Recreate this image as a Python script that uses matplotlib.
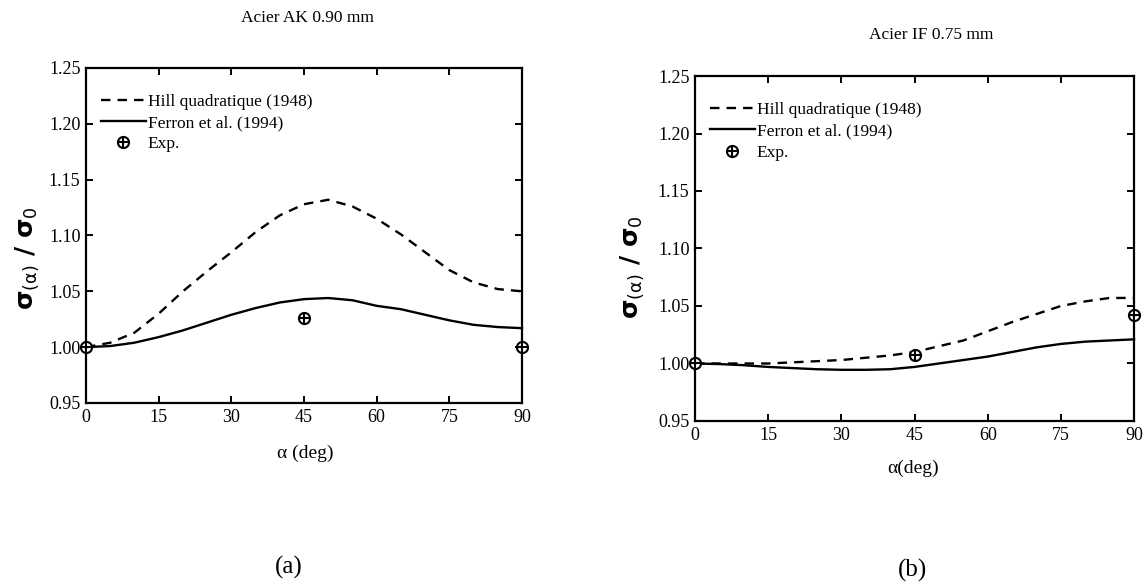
import matplotlib
matplotlib.use('Agg')
import matplotlib.pyplot as plt
from matplotlib.legend_handler import HandlerTuple

plt.rcParams['font.family'] = ['Liberation Serif', 'DejaVu Serif']
plt.rcParams['mathtext.fontset'] = 'dejavusans'

# angle grid (deg)
alpha = [0, 5, 10, 15, 20, 25, 30, 35, 40, 45, 50, 55, 60, 65, 70, 75, 80, 85, 90]

# (a) Acier AK 0.90 mm
hill_ak = [1.000, 1.004, 1.013, 1.030, 1.050, 1.068, 1.085, 1.103, 1.118, 1.128,
           1.132, 1.126, 1.115, 1.101, 1.085, 1.069, 1.058, 1.052, 1.050]
ferron_ak = [1.000, 1.001, 1.004, 1.009, 1.015, 1.022, 1.029, 1.035, 1.040, 1.043,
             1.044, 1.042, 1.037, 1.034, 1.029, 1.024, 1.020, 1.018, 1.017]
exp_ak_a = [0, 45, 90]
exp_ak_v = [1.000, 1.026, 1.000]

# (b) Acier IF 0.75 mm
hill_if = [1.000, 1.000, 1.000, 1.000, 1.001, 1.002, 1.003, 1.005, 1.007, 1.010,
           1.015, 1.020, 1.028, 1.036, 1.043, 1.050, 1.054, 1.057, 1.057]
ferron_if = [1.000, 0.9995, 0.9985, 0.997, 0.996, 0.995, 0.9945, 0.9945, 0.995, 0.997,
             1.000, 1.003, 1.006, 1.010, 1.014, 1.017, 1.019, 1.020, 1.021]
exp_if_a = [0, 45, 90]
exp_if_v = [1.000, 1.007, 1.042]

xticks = [0, 15, 30, 45, 60, 75, 90]
yticks = [0.95, 1.00, 1.05, 1.10, 1.15, 1.20, 1.25]

fig = plt.figure(figsize=(11.44, 5.86), dpi=100)
ax1 = fig.add_axes([0.0752, 0.3123, 0.3811, 0.5717])
ax2 = fig.add_axes([0.6075, 0.2816, 0.3838, 0.5887])


def draw(ax, hill, ferron, ea, ev):
    l1, = ax.plot(alpha, hill, color='k', lw=1.7, linestyle=(0, (4, 3)), clip_on=False)
    l2, = ax.plot(alpha, ferron, color='k', lw=1.7, clip_on=False)
    m1, = ax.plot(ea, ev, 'o', ms=8, mfc='white', mec='k', mew=1.5, clip_on=False, zorder=5)
    m2, = ax.plot(ea, ev, '+', ms=8, mec='k', mew=1.5, clip_on=False, zorder=6)
    ax.set_xlim(0, 90)
    ax.set_ylim(0.95, 1.25)
    ax.set_xticks(xticks)
    ax.set_yticks(yticks)
    ax.set_yticklabels(['%.2f' % v for v in yticks])
    ax.tick_params(direction='in', length=5, width=1.4, top=True, right=True,
                   labelsize=13, pad=4)
    for s in ax.spines.values():
        s.set_linewidth(1.6)
    ax.legend([l1, l2, (m1, m2)],
              ['Hill quadratique (1948)', 'Ferron et al. (1994)', 'Exp.'],
              handler_map={tuple: HandlerTuple(ndivide=1)},
              loc='upper left', bbox_to_anchor=(0.01, 0.955), frameon=False,
              fontsize=12.5, handlelength=2.6, handletextpad=0.1, labelspacing=0.3,
              borderaxespad=0.2)


draw(ax1, hill_ak, ferron_ak, exp_ak_a, exp_ak_v)
draw(ax2, hill_if, ferron_if, exp_if_a, exp_if_v)

ylab = r'σ$_{(\mathrm{\alpha})}$ / σ$_0$'
fig.text(0.024, 0.56, ylab, rotation=90, ha='center', va='center', fontsize=18,
         family='DejaVu Sans', fontweight='bold')
fig.text(0.553, 0.545, ylab, rotation=90, ha='center', va='center', fontsize=18,
         family='DejaVu Sans', fontweight='bold')

fig.text(0.269, 0.969, 'Acier AK 0.90 mm', ha='center', va='center', fontsize=12.5)
fig.text(0.814, 0.940, 'Acier IF 0.75 mm', ha='center', va='center', fontsize=12.5)

fig.text(0.267, 0.227, 'α (deg)', ha='center', va='center', fontsize=14)
fig.text(0.798, 0.201, 'α(deg)', ha='center', va='center', fontsize=14)

fig.text(0.252, 0.031, '(a)', ha='center', va='center', fontsize=18)
fig.text(0.798, 0.027, '(b)', ha='center', va='center', fontsize=18)

fig.savefig('out.png', dpi=100)
